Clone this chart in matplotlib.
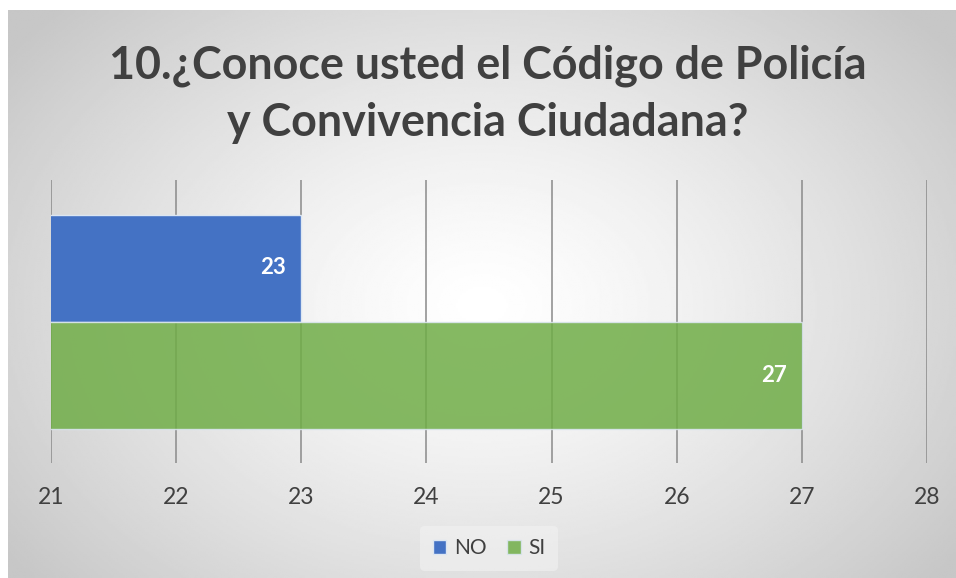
import matplotlib
matplotlib.use('Agg')
import matplotlib.pyplot as plt
import numpy as np

plt.rcParams['font.family'] = ['Lato', 'DejaVu Sans']

title = '10.¿Conoce usted el Código de Policía\ny Convivencia Ciudadana?'
series = ['NO', 'SI']
values = [23, 27]
colors = ['#4472C4', '#70AD47']
x_ticks = [21, 22, 23, 24, 25, 26, 27, 28]

W, H = 956, 578
fig = plt.figure(figsize=(W / 100, H / 100), dpi=100)
fig.patch.set_facecolor('white')

# radial grey background of the chart area
bg = fig.add_axes([8 / W, 0, 1 - 8 / W, 1 - 10 / H])
yy, xx = np.mgrid[0:1:300j, 0:1:500j]
r = np.sqrt(((xx - 0.5) / 0.62) ** 2 + ((yy - 0.52) / 0.75) ** 2)
shade = 1.0 - 0.22 * np.clip(r, 0, 1) ** 1.3
bg.imshow(shade, cmap='gray', vmin=0, vmax=1, aspect='auto', extent=[0, 1, 0, 1])
bg.axis('off')

ax = fig.add_axes([51 / W, (H - 463) / H, (927 - 51) / W, (463 - 180) / H])
ax.patch.set_alpha(0)

h = 107 / 283
ypos = [h / 2, -h / 2]
for y, v, c, name in zip(ypos, values, colors, series):
    alpha = 1.0 if name == 'NO' else 0.85
    ax.barh(y, v, height=h, color=c, alpha=alpha, edgecolor='#dce6f2', linewidth=1, label=name, zorder=2)
    ax.text(v - 0.12, y, str(v), ha='right', va='center', color='white',
            fontsize=16, fontweight='bold', zorder=3)

ax.set_xlim(21, 28)
ax.set_ylim(-0.5, 0.5)
ax.set_xticks(x_ticks)
ax.set_yticks([])
ax.grid(axis='x', color='#8a8a8a', linewidth=1.1, zorder=0)
ax.set_axisbelow(True)
for s in ax.spines.values():
    s.set_visible(False)
ax.tick_params(axis='x', length=0, pad=17, labelsize=16.5, labelcolor='#404040')

fig.text(488 / W, 1 - 94 / H, title, ha='center', va='center', fontsize=32.3,
         fontweight='bold', color='#404040', linespacing=1.45)

leg = fig.legend(loc='center', bbox_to_anchor=(489 / W, 1 - 548 / H), ncol=2,
                 frameon=True, fontsize=15, handlelength=0.65, handleheight=0.65,
                 handletextpad=0.35, columnspacing=1.0, borderpad=0.6)
leg.get_frame().set_facecolor('#f2f2f2')
leg.get_frame().set_edgecolor('none')
leg.get_frame().set_alpha(0.6)
for t in leg.get_texts():
    t.set_color('#404040')

fig.savefig('out.png', dpi=100)
